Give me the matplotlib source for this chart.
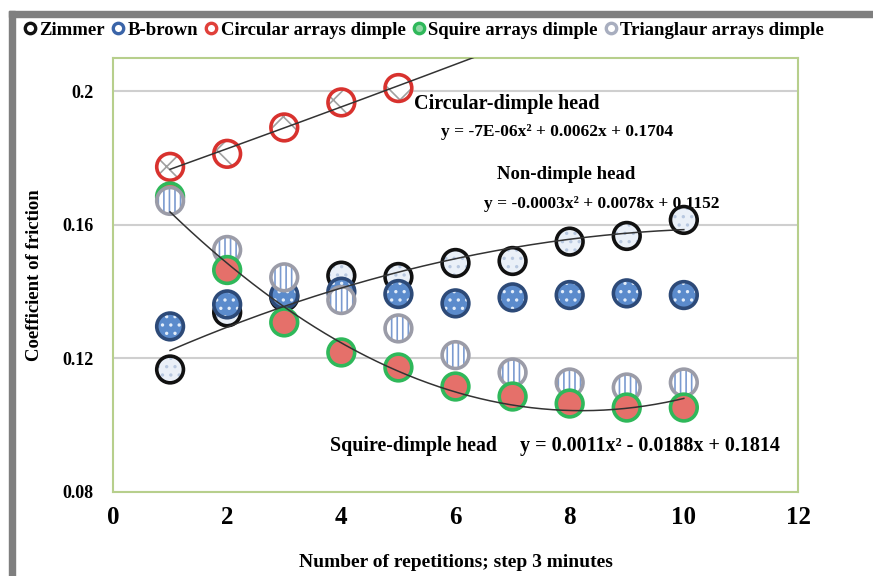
import numpy as np
import matplotlib
matplotlib.use('Agg')
import matplotlib.pyplot as plt
from matplotlib.lines import Line2D
from matplotlib.patches import Rectangle

plt.rcParams['font.family'] = ['Liberation Serif', 'DejaVu Serif']
plt.rcParams['font.weight'] = 'bold'
plt.rcParams['axes.labelweight'] = 'bold'
plt.rcParams['hatch.linewidth'] = 1.2

reps = [1, 2, 3, 4, 5, 6, 7, 8, 9, 10]
zimmer = [0.1167, 0.1338, 0.1385, 0.1448, 0.1444, 0.1486, 0.1492, 0.1550, 0.1567, 0.1615]
bbrown = [0.1296, 0.1362, 0.1390, 0.1400, 0.1393, 0.1365, 0.1383, 0.1390, 0.1395, 0.1390]
circ_reps = [1, 2, 3, 4, 5]
circular = [0.1774, 0.1813, 0.1892, 0.1967, 0.2010]
squire = [0.1685, 0.1465, 0.1308, 0.1218, 0.1173, 0.1116, 0.1086, 0.1065, 0.1053, 0.1053]
triang = [0.1672, 0.1525, 0.1443, 0.1375, 0.1290, 0.1210, 0.1158, 0.1128, 0.1113, 0.1128]

names = ['Zimmer', 'B-brown', 'Circular arrays dimple', 'Squire arrays dimple',
         'Trianglaur arrays dimple']

fig = plt.figure(figsize=(8.73, 5.76), dpi=100)
ax = fig.add_axes([113/873, 84/576, 685/873, 434/576])

S = 370
LW = 2.6

def dots(x, y, face, hatchcol, hatch, edge, z):
    # fill + hatch layer, then the ring on top
    ax.scatter(x, y, s=S, facecolor=face, edgecolor=hatchcol, hatch=hatch,
               linewidth=0, zorder=z)
    ax.scatter(x, y, s=S, facecolor='none', edgecolor=edge, linewidth=LW,
               zorder=z + 0.1)

dots(reps, zimmer, '#eaf0f8', '#b8c8e0', '..', '#111111', 3)
dots(reps, bbrown, '#5b8bcc', '#e4eefa', '..', '#2d4a78', 4)
dots(circ_reps, circular, 'white', '#a0a0a0', 'x', '#d8322e', 5)
# first squire point sits under the striped one in the original
dots(reps[:1], squire[:1], '#e5706a', '#d35a55', '', '#2fb85a', 5.5)
dots(reps, triang, 'white', '#7b9bd0', '|||', '#9b9ca8', 6)
dots(reps[1:], squire[1:], '#e5706a', '#d35a55', '', '#2fb85a', 7)

# trendlines (2nd order, as in the original)
xx = np.linspace(1, 10, 200)
for y in (zimmer, squire):
    c = np.polyfit(reps, y, 2)
    ax.plot(xx, np.polyval(c, xx), color='#333333', lw=1.1, zorder=8)
xc = np.linspace(1, 12, 200)
c = np.polyfit(circ_reps, circular, 2)
ax.plot(xc, np.polyval(c, xc), color='#333333', lw=1.1, zorder=8)

ax.set_xlim(0, 12)
ax.set_ylim(0.08, 0.21)
ax.set_xticks([0, 2, 4, 6, 8, 10, 12])
ax.set_yticks([0.08, 0.12, 0.16, 0.2])
ax.set_yticklabels(['0.08', '0.12', '0.16', '0.2'])
ax.tick_params(length=0)
ax.tick_params(axis='x', labelsize=18, pad=10)
ax.tick_params(axis='y', labelsize=13, pad=14)
ax.yaxis.grid(True, color='#cfcfcf', lw=1.5)
ax.set_axisbelow(True)
for sp in ax.spines.values():
    sp.set_color('#b7cf8c')
    sp.set_linewidth(1.5)

ax.set_xlabel('Number of repetitions; step 3 minutes', fontsize=14, labelpad=18)
ax.set_ylabel('Coefficient of friction', fontsize=13.5, labelpad=14)

ax.text(5.27, 0.1961, 'Circular-dimple head', fontsize=14.5, va='center')
ax.text(5.74, 0.1877, 'y = -7E-06x² + 0.0062x + 0.1704', fontsize=12.5, va='center')
ax.text(6.72, 0.1751, 'Non-dimple head', fontsize=13.5, va='center')
ax.text(6.50, 0.1663, 'y = -0.0003x² + 0.0078x + 0.1152', fontsize=12.5, va='center', zorder=2)
ax.text(3.80, 0.0939, 'Squire-dimple head', fontsize=14.3, va='center')
ax.text(7.13, 0.0939, 'y = 0.0011x² - 0.0188x + 0.1814', fontsize=14.5, va='center')

handles = [
    Line2D([], [], ls='none', marker='o', ms=7.5, mfc='white', mec='#111111', mew=2.4),
    Line2D([], [], ls='none', marker='o', ms=7.5, mfc='white', mec='#3a64a8', mew=2.4),
    Line2D([], [], ls='none', marker='o', ms=7.5, mfc='white', mec='#e0403a', mew=2.4),
    Line2D([], [], ls='none', marker='o', ms=7.5, mfc='#8fd6a4', mec='#2fb85a', mew=2.4),
    Line2D([], [], ls='none', marker='o', ms=7.5, mfc='white', mec='#a8aebf', mew=2.4),
]
fig.legend(handles, names, loc='center left', bbox_to_anchor=(17/873, 1 - 30/576),
           ncol=5, frameon=False, fontsize=13.5, handlelength=0.6, handletextpad=0.2,
           columnspacing=0.4, borderaxespad=0)

# grey frame of the original screenshot
gray = '#7f7f7f'
fig.patches.append(Rectangle((9/873, 1 - 17/576), 1, 6/576, transform=fig.transFigure,
                             color=gray, zorder=0))
fig.patches.append(Rectangle((9/873, 0), 6/873, 1 - 11/576, transform=fig.transFigure,
                             color=gray, zorder=0))

fig.savefig('out.png', dpi=100)
